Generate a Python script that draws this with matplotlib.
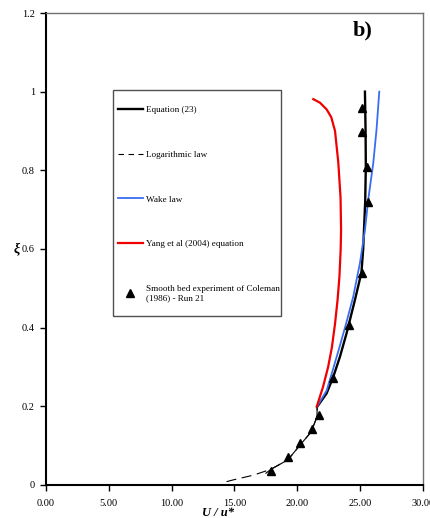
import matplotlib
matplotlib.use('Agg')
import matplotlib.pyplot as plt
from matplotlib.lines import Line2D
from matplotlib.patches import Rectangle

plt.rcParams.update({
    'font.family': 'Liberation Serif',
    'font.size': 7.5,
})

# Equation (23), upper part (thick) and lower part (thin)
u_eq = [21.58, 22.33, 22.86, 23.39, 23.92, 24.32, 24.58, 25.10, 25.24, 25.40, 25.45, 25.43, 25.38]
xi_eq = [0.199, 0.233, 0.275, 0.326, 0.386, 0.437, 0.470, 0.540, 0.600, 0.720, 0.810, 0.900, 1.000]
u_eq_low = [17.5, 17.9, 19.25, 20.18, 21.10, 21.56, 21.58]
xi_eq_low = [0.030, 0.040, 0.064, 0.100, 0.135, 0.173, 0.199]

# logarithmic law
u_log = [14.37, 14.9, 16.5, 17.9, 19.25, 20.18, 21.10, 21.56, 21.58]
xi_log = [0.0085, 0.013, 0.025, 0.040, 0.064, 0.100, 0.135, 0.173, 0.199]

# wake law
u_wake = [21.58, 22.33, 22.80, 23.35, 23.92, 24.45, 24.98, 25.38, 25.64, 26.04, 26.30, 26.52]
xi_wake = [0.200, 0.240, 0.290, 0.350, 0.415, 0.479, 0.564, 0.648, 0.725, 0.818, 0.903, 1.000]

# Yang et al (2004)
u_yang = [21.55, 22.05, 22.45, 22.75, 23.00, 23.20, 23.35, 23.45, 23.48, 23.44, 23.26, 23.00, 22.70, 22.33, 21.80, 21.27]
xi_yang = [0.200, 0.250, 0.300, 0.350, 0.410, 0.470, 0.530, 0.600, 0.650, 0.730, 0.820, 0.900, 0.935, 0.955, 0.972, 0.981]

# Coleman (1986) run 21
u_exp = [17.90, 19.28, 20.18, 21.13, 21.72, 22.83, 24.13, 25.16, 25.59, 25.51, 25.16, 25.11]
xi_exp = [0.036, 0.070, 0.106, 0.142, 0.177, 0.272, 0.408, 0.538, 0.720, 0.809, 0.898, 0.959]

x_ticks = [0, 5, 10, 15, 20, 25, 30]
y_ticks = [0, 0.2, 0.4, 0.6, 0.8, 1.0, 1.2]
y_ticklabels = ['0', '0.2', '0.4', '0.6', '0.8', '1', '1.2']

fig = plt.figure(figsize=(4.31, 5.18), dpi=100)
ax = fig.add_axes([46/431, 33/518, 377/431, 472/518])

ax.plot(u_log, xi_log, color='black', lw=0.8, dashes=(9, 5))
ax.plot(u_eq_low, xi_eq_low, color='black', lw=0.8)
ax.plot(u_eq, xi_eq, color='black', lw=1.7)
ax.plot(u_wake, xi_wake, color='#3a6df0', lw=1.3)
ax.plot(u_yang, xi_yang, color='#f00000', lw=1.6)
ax.plot(u_exp, xi_exp, ls='none', marker='^', ms=6, color='black')

ax.set_xlim(0, 30)
ax.set_ylim(0, 1.2)
ax.set_xticks(x_ticks)
ax.set_xticklabels(['%.2f' % v for v in x_ticks])
ax.set_yticks(y_ticks)
ax.set_yticklabels(y_ticklabels)
ax.tick_params(direction='out', length=4, width=1, labelsize=7.5)
ax.tick_params(axis='x', pad=6)
ax.tick_params(axis='y', pad=4)

for s in ['left', 'bottom']:
    ax.spines[s].set_linewidth(1.5)
    ax.spines[s].set_color('black')
for s in ['top', 'right']:
    ax.spines[s].set_linewidth(1.0)
    ax.spines[s].set_color('#707070')

ax.set_xlabel('U / u*', fontsize=9, fontweight='bold', fontstyle='italic')
ax.xaxis.set_label_coords((218 - 46) / 377, -0.046)
ax.set_ylabel('ξ', fontsize=10, fontweight='bold', fontstyle='italic',
              rotation=0, ha='center', va='center')
ax.yaxis.set_label_coords(-0.077, 0.5)

ax.text(0.84, 0.963, 'b)', transform=ax.transAxes, fontsize=16,
        fontweight='bold', ha='center', va='center')

# legend box drawn as a plain rectangle, entries placed inside it
ax.add_patch(Rectangle(((113 - 46) / 377, (485 - 316) / 472), (281 - 113) / 377, (316 - 90) / 472,
                       transform=ax.transAxes, fill=True, facecolor='white',
                       edgecolor='#505050', lw=1.0, zorder=4))

handles = [
    Line2D([], [], color='black', lw=1.7),
    Line2D([], [], color='black', lw=0.8, dashes=(5, 4)),
    Line2D([], [], color='#3a6df0', lw=1.3),
    Line2D([], [], color='#f00000', lw=1.6),
    Line2D([], [], ls='none', marker='^', ms=6, color='black'),
]
labels = ['Equation (23)', 'Logarithmic law', 'Wake law', 'Yang et al (2004) equation',
          'Smooth bed experiment of Coleman\n(1986) - Run 21']
leg = ax.legend(handles, labels, loc='upper left',
                bbox_to_anchor=((118 - 46) / 377, (485 - 106) / 472),
                borderaxespad=0, fontsize=6.6, frameon=False,
                borderpad=0, labelspacing=3.95, handlelength=2.7, handletextpad=0.35,
                numpoints=1)
leg.set_zorder(5)

fig.savefig('out.png', dpi=100)
